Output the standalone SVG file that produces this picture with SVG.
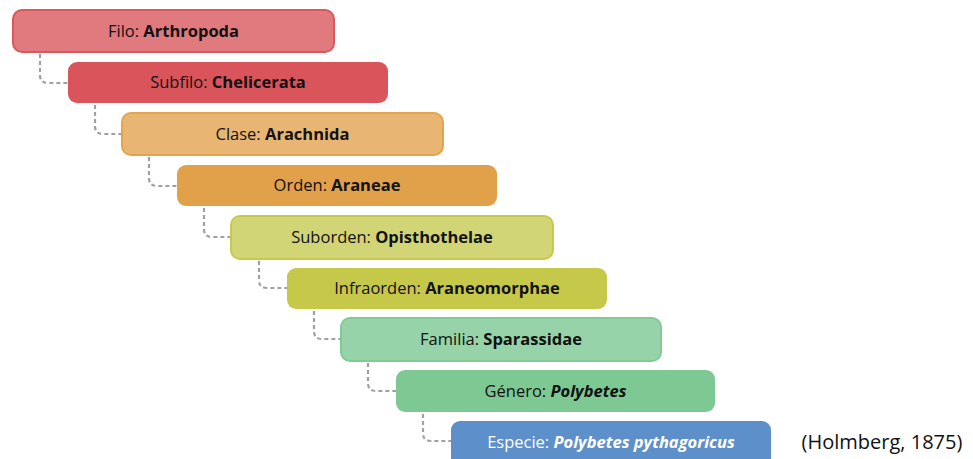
<svg xmlns="http://www.w3.org/2000/svg" width="973" height="459" viewBox="0 0 973 459">
<style>
.b{stroke-width:2}
.t{font-family:"Open Sans","Noto Sans",sans-serif;font-size:16.5px;text-anchor:middle;fill:#111}
.t tspan.k{font-weight:bold}
.c{fill:none;stroke:#a0a0a0;stroke-width:2.2;stroke-dasharray:4 3}
</style>
<rect width="973" height="459" fill="#fff"/>
<g id="connectors">
<path class="c" d="M40 54 V75 Q40 83 48 83 H68"/>
<path class="c" d="M95 105 V126 Q95 134 103 134 H122"/>
<path class="c" d="M149 157 V178 Q149 186 157 186 H177"/>
<path class="c" d="M204 208 V229 Q204 237 212 237 H231"/>
<path class="c" d="M259 261 V280 Q259 288 267 288 H287"/>
<path class="c" d="M314 311 V331 Q314 339 322 339 H341"/>
<path class="c" d="M368 363 V383 Q368 391 376 391 H396"/>
<path class="c" d="M423 414 V433 Q423 441 431 441 H451"/>
</g>
<g id="filo"><rect class="b" x="13" y="10" width="321" height="42" rx="9" fill="#e07a7e" stroke="#d9575d"/><text class="t" x="173.5" y="37">Filo: <tspan class="k">Arthropoda</tspan></text></g>
<g id="subfilo"><rect x="68" y="62" width="320" height="41" rx="9" fill="#d9545b"/><text class="t" x="228" y="88">Subfilo: <tspan class="k">Chelicerata</tspan></text></g>
<g id="clase"><rect class="b" x="122" y="113" width="321" height="42" rx="9" fill="#e8b672" stroke="#e4a44c"/><text class="t" x="282.5" y="140">Clase: <tspan class="k">Arachnida</tspan></text></g>
<g id="orden"><rect x="177" y="165" width="320" height="41" rx="9" fill="#e1a04a"/><text class="t" x="337" y="191">Orden: <tspan class="k">Araneae</tspan></text></g>
<g id="suborden"><rect class="b" x="231" y="216" width="322" height="43" rx="9" fill="#d1d575" stroke="#c8c94c"/><text class="t" x="392" y="243">Suborden: <tspan class="k">Opisthothelae</tspan></text></g>
<g id="infraorden"><rect x="287" y="268" width="320" height="41" rx="9" fill="#c6c84a"/><text class="t" x="447" y="294">Infraorden: <tspan class="k">Araneomorphae</tspan></text></g>
<g id="familia"><rect class="b" x="341" y="318" width="320" height="43" rx="9" fill="#97d3a8" stroke="#80ca96"/><text class="t" x="501" y="345">Familia: <tspan class="k">Sparassidae</tspan></text></g>
<g id="genero"><rect x="396" y="370" width="319" height="42" rx="9" fill="#7ec893"/><text class="t" x="555.5" y="397">Género: <tspan class="k" font-style="italic">Polybetes</tspan></text></g>
<g id="especie"><rect x="451" y="421" width="320" height="48" rx="9" fill="#5d8fca"/><text class="t" x="611" y="448" style="fill:#fff">Especie: <tspan class="k" font-style="italic">Polybetes pythagoricus</tspan></text></g>
<text x="882" y="449" font-family="'Open Sans','Noto Sans',sans-serif" font-size="20" text-anchor="middle" fill="#111">(Holmberg, 1875)</text>
</svg>
